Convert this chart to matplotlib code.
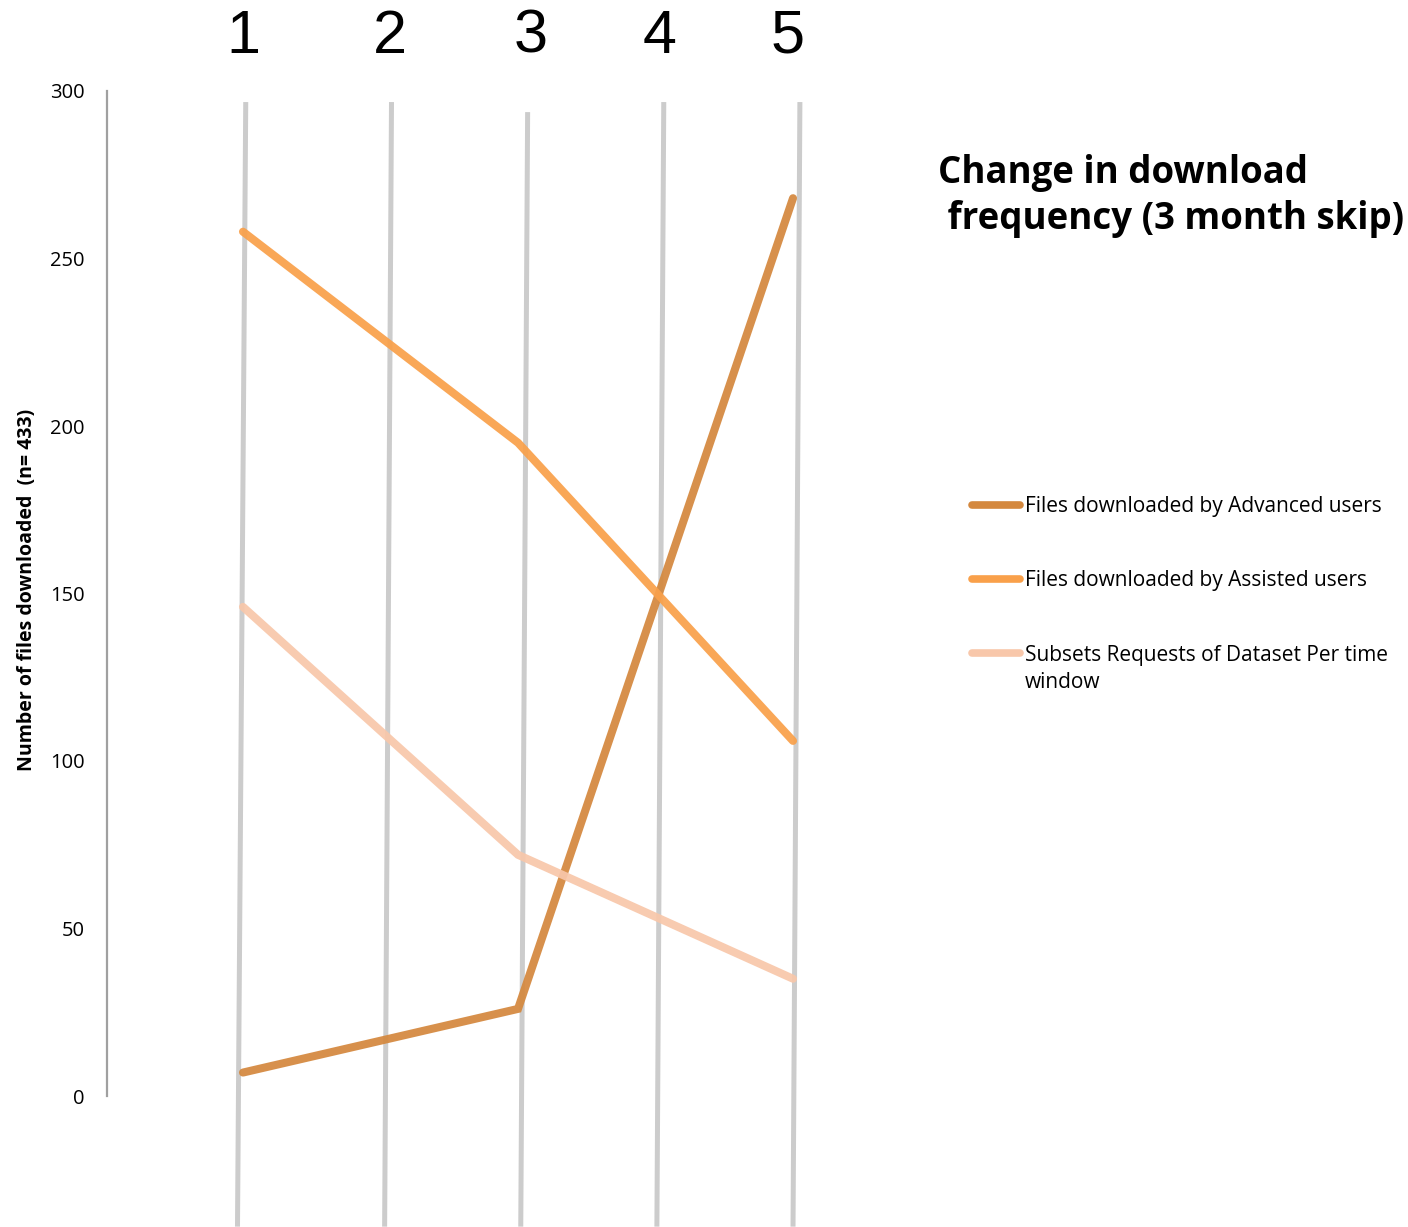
import matplotlib
matplotlib.use("Agg")
import matplotlib.pyplot as plt
from matplotlib.lines import Line2D

# data (values only at windows 1, 3 and 5)
windows = [1, 3, 5]
advanced = [7, 26, 268]
assisted = [258, 195, 106]
subsets = [146, 72, 35]
labels = ["Files downloaded by Advanced users",
          "Files downloaded by Assisted users",
          "Subsets Requests of Dataset Per time\nwindow"]
colors = ["#D4883E", "#F9A04A", "#F8C7AA"]
columns = [1, 2, 3, 4, 5]
yticks = [0, 50, 100, 150, 200, 250, 300]

W, H = 1408, 1227
FONT = "Open Sans"
fig = plt.figure(figsize=(W / 100, H / 100), dpi=100)
ax = fig.add_axes([107 / W, 1 - 1096 / H, (900 - 107) / W, 1005 / H])
ax.set_xlim(0.011, 5.778)
ax.set_ylim(0, 300)

# slanted grey column guides
top_off = [0.02, 0.08, 0.07, 0.06, 0.05]
bot_off = [-0.04, 0.03, 0.02, 0.01, 0.0]
top_y = [296.7, 296.7, 293.7, 296.7, 296.7]
for c, t, b, ty in zip(columns, top_off, bot_off, top_y):
    ax.plot([c + t, c + b], [ty, -39], color="#CCCCCC", lw=3.6,
            clip_on=False, zorder=1, solid_capstyle="butt")

num_off = [0.0, 0.07, 0.09, 0.03, -0.04]
for c, o in zip(columns, num_off):
    ax.text(c + o, 316, str(c), ha="center", va="center", fontsize=44,
            family="Liberation Sans", clip_on=False)

for series, col in zip([advanced, assisted, subsets], colors):
    ax.plot(windows, series, color=col, lw=5.8, clip_on=False, alpha=0.93,
            solid_capstyle="round", solid_joinstyle="miter", zorder=3)

for s in ["top", "right", "bottom"]:
    ax.spines[s].set_visible(False)
ax.spines["left"].set_color("#A0A0A0")
ax.spines["left"].set_linewidth(1.6)
ax.set_xticks([])
ax.set_yticks(yticks)
ax.tick_params(axis="y", length=0, pad=16, labelsize=14.5)
for t in ax.get_yticklabels():
    t.set_family(FONT)

fig.text(27 / W, 1 - 590 / H, "Number of files downloaded  (n= 433)",
         rotation=90, ha="center", va="center", fontsize=14,
         fontweight="bold", family=FONT)

fig.text(938 / W, 1 - 154 / H, "Change in download\n frequency (3 month skip)",
         ha="left", va="top", fontsize=26.4, fontweight="bold", family=FONT,
         linespacing=1.27)

# legend, handle level with the first line of each label
leg_y = [505, 579, 653]
for y, lab, col in zip(leg_y, labels, colors):
    fig.add_artist(Line2D([972 / W, 1020 / W], [1 - y / H, 1 - y / H],
                          color=col, lw=5.5, solid_capstyle="round"))
    base = y + 7 + 28 * lab.count("\n")
    fig.text(1025 / W, 1 - base / H, lab, ha="left", va="baseline",
             fontsize=15, family=FONT, linespacing=1.4)

fig.savefig("out.png", dpi=100)
